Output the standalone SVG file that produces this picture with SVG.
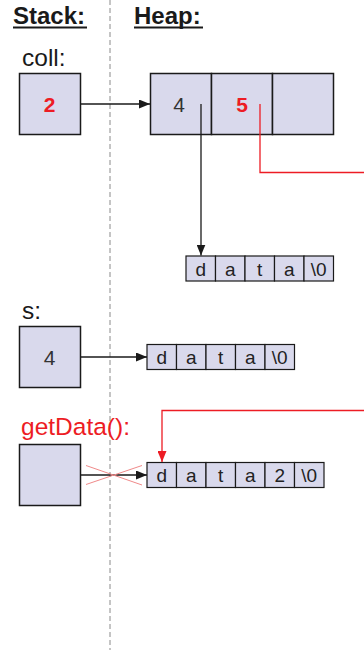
<svg xmlns="http://www.w3.org/2000/svg" width="364" height="650" viewBox="0 0 364 650">
  <style>
    .box { fill: #d9d9ec; stroke: #1a1a1a; stroke-width: 1.5; }
    .cell { fill: #d9d9ec; stroke: #1a1a1a; stroke-width: 1.2; }
    .title { font-family: "Liberation Sans", Arial, sans-serif; font-size: 24px; font-weight: bold; fill: #1a1a1a; }
    .label { font-family: "Liberation Sans", Arial, sans-serif; font-size: 24.5px; fill: #1a1a1a; }
    .num { font-family: "Liberation Sans", Arial, sans-serif; font-size: 21px; fill: #333; text-anchor: middle; }
    .red { fill: #ed1c24; font-weight: bold; }
    .ch { font-family: "Liberation Sans", Arial, sans-serif; font-size: 19px; fill: #222; text-anchor: middle; }
    .link { fill: none; stroke: #1a1a1a; stroke-width: 1.3; }
    .rlink { fill: none; stroke: #ed1c24; stroke-width: 1.3; }
    .cross { stroke: #f08a8a; stroke-width: 1; }
  </style>
  <defs>
    <marker id="arrow" markerUnits="userSpaceOnUse" markerWidth="11" markerHeight="9" refX="11" refY="4.5" orient="auto">
      <path d="M0,0 L11,4.5 L0,9 z" fill="#1a1a1a"/>
    </marker>
    <marker id="arrowRed" markerUnits="userSpaceOnUse" markerWidth="11" markerHeight="9" refX="11" refY="4.5" orient="auto">
      <path d="M0,0 L11,4.5 L0,9 z" fill="#ed1c24"/>
    </marker>
  </defs>

  <rect width="364" height="650" fill="#ffffff"/>

  <!-- stack / heap divider -->
  <line x1="110" y1="0" x2="110" y2="650" stroke="#8a8a8a" stroke-width="1" stroke-dasharray="5,3"/>

  <!-- column headings -->
  <g id="headings">
    <text class="title" x="13" y="24">Stack:</text>
    <line x1="13" y1="27.5" x2="87" y2="27.5" stroke="#1a1a1a" stroke-width="2"/>
    <text class="title" x="134" y="24">Heap:</text>
    <line x1="134" y1="27.5" x2="203" y2="27.5" stroke="#1a1a1a" stroke-width="2"/>
  </g>

  <!-- stack variable coll -->
  <g id="coll">
    <text class="label" x="22" y="66">coll:</text>
    <rect class="box" x="19.5" y="73.5" width="61" height="61"/>
    <text class="num red" x="49.5" y="111.5">2</text>
  </g>

  <!-- heap array owned by coll -->
  <g id="coll-heap">
    <rect class="box" x="150.5" y="73.5" width="61" height="61"/>
    <rect class="box" x="211.5" y="73.5" width="61" height="61"/>
    <rect class="box" x="272.5" y="73.5" width="61" height="61"/>
    <text class="num" x="179" y="111.5">4</text>
    <text class="num red" x="242" y="111.5">5</text>
  </g>

  <!-- string buffer of first element -->
  <g id="str1">
    <rect class="cell" x="186" y="256" width="29.5" height="25"/>
    <rect class="cell" x="215.5" y="256" width="29.5" height="25"/>
    <rect class="cell" x="245" y="256" width="29.5" height="25"/>
    <rect class="cell" x="274.5" y="256" width="29.5" height="25"/>
    <rect class="cell" x="304" y="256" width="29.5" height="25"/>
    <text class="ch" x="200.75" y="275.5">d</text>
    <text class="ch" x="230.25" y="275.5">a</text>
    <text class="ch" x="259.75" y="275.5">t</text>
    <text class="ch" x="289.25" y="275.5">a</text>
    <text class="ch" x="318.75" y="275.5">\0</text>
  </g>

  <!-- stack variable s -->
  <g id="s">
    <text class="label" x="22" y="319">s:</text>
    <rect class="box" x="19.5" y="326.5" width="61" height="61"/>
    <text class="num" x="49.5" y="364.5">4</text>
  </g>

  <!-- string buffer of s -->
  <g id="str-s">
    <rect class="cell" x="147" y="344.5" width="29.5" height="25"/>
    <rect class="cell" x="176.5" y="344.5" width="29.5" height="25"/>
    <rect class="cell" x="206" y="344.5" width="29.5" height="25"/>
    <rect class="cell" x="235.5" y="344.5" width="29.5" height="25"/>
    <rect class="cell" x="265" y="344.5" width="29.5" height="25"/>
    <text class="ch" x="161.75" y="364">d</text>
    <text class="ch" x="191.25" y="364">a</text>
    <text class="ch" x="220.75" y="364">t</text>
    <text class="ch" x="250.25" y="364">a</text>
    <text class="ch" x="279.75" y="364">\0</text>
  </g>

  <!-- return value of getData() -->
  <g id="getData">
    <text class="label" x="21" y="435" style="fill:#ed1c24">getData():</text>
    <rect class="box" x="19.5" y="444.5" width="61" height="61"/>
  </g>

  <!-- string buffer returned by getData() -->
  <g id="str-get">
    <rect class="cell" x="147" y="462.5" width="29.5" height="25"/>
    <rect class="cell" x="176.5" y="462.5" width="29.5" height="25"/>
    <rect class="cell" x="206" y="462.5" width="29.5" height="25"/>
    <rect class="cell" x="235.5" y="462.5" width="29.5" height="25"/>
    <rect class="cell" x="265" y="462.5" width="29.5" height="25"/>
    <rect class="cell" x="294.5" y="462.5" width="29.5" height="25"/>
    <text class="ch" x="161.75" y="482">d</text>
    <text class="ch" x="191.25" y="482">a</text>
    <text class="ch" x="220.75" y="482">t</text>
    <text class="ch" x="250.25" y="482">a</text>
    <text class="ch" x="279.75" y="482">2</text>
    <text class="ch" x="309.25" y="482">\0</text>
  </g>

  <!-- pointers -->
  <g id="connectors">
    <line class="link" x1="80.5" y1="104" x2="150" y2="104" marker-end="url(#arrow)"/>
    <line class="link" x1="201" y1="104" x2="201" y2="255.5" marker-end="url(#arrow)"/>
    <polyline class="rlink" points="260,104 260,172.5 364,172.5"/>
    <line class="link" x1="80.5" y1="357" x2="147" y2="357" marker-end="url(#arrow)"/>
    <polyline class="rlink" points="364,410.5 162,410.5 162,462" marker-end="url(#arrowRed)"/>
    <line class="link" x1="80.5" y1="475" x2="147" y2="475" marker-end="url(#arrow)"/>
    <line class="cross" x1="86" y1="465.5" x2="142" y2="485"/>
    <line class="cross" x1="86" y1="484.5" x2="142" y2="465.5"/>
  </g>
</svg>
